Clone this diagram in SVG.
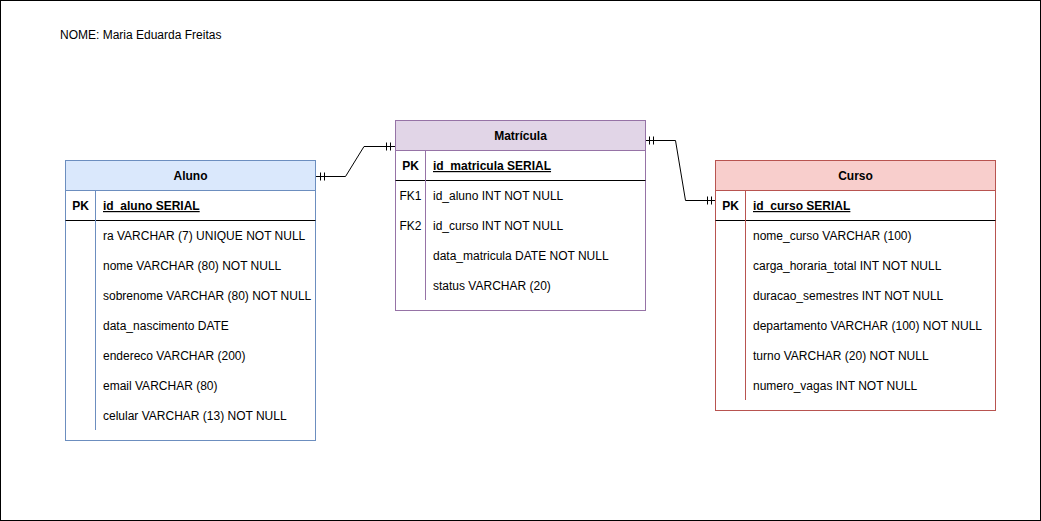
<svg xmlns="http://www.w3.org/2000/svg" width="1041" height="521" viewBox="0 0 1041 521">
<style>
text{font-family:"Liberation Sans",Arial,Helvetica,sans-serif;font-size:12px;fill:#000}
.h{font-weight:bold;text-anchor:middle}
.k{text-anchor:middle}
.pk{font-weight:bold}
.u{font-weight:bold;text-decoration:underline}
.sep{stroke:#000;stroke-width:1;fill:none}
.conn{stroke:#000;stroke-width:1;fill:none}
</style>
<rect x="0.5" y="0.5" width="1040" height="520" fill="#fff" stroke="#000"/>
<text x="60" y="39">NOME: Maria Eduarda Freitas</text>

<g id="connectors">
<path class="conn" d="M315.5 176.5 L345.5 176.5 L364 146.5 L395.5 146.5"/>
<path class="conn" d="M320.5 172.5 V180.5 M324.5 172.5 V180.5 M386.5 142.5 V150.5 M390.5 142.5 V150.5"/>
<path class="conn" d="M645.5 140.5 L675.5 140.5 L685.5 200.5 L715.5 200.5"/>
<path class="conn" d="M649.5 136.5 V144.5 M653.5 136.5 V144.5 M707.5 196.5 V204.5 M711.5 196.5 V204.5"/>
</g>

<g id="aluno">
<rect x="65.5" y="160.5" width="250" height="280" fill="#fff" stroke="#6c8ebf"/>
<rect x="65.5" y="160.5" width="250" height="30" fill="#dae8fc" stroke="#6c8ebf"/>
<line class="sep" x1="65.5" y1="220.5" x2="315.5" y2="220.5"/>
<line x1="95.5" y1="190.5" x2="95.5" y2="430" stroke="#6c8ebf"/>
<text class="h" x="190.5" y="180">Aluno</text>
<text class="pk k" x="80.5" y="210">PK</text>
<text class="u" x="103" y="210">id_aluno SERIAL</text>
<text x="103" y="240">ra VARCHAR (7) UNIQUE NOT NULL</text>
<text x="103" y="270">nome VARCHAR (80) NOT NULL</text>
<text x="103" y="300">sobrenome VARCHAR (80) NOT NULL</text>
<text x="103" y="330">data_nascimento DATE</text>
<text x="103" y="360">endereco VARCHAR (200)</text>
<text x="103" y="390">email VARCHAR (80)</text>
<text x="103" y="420">celular VARCHAR (13) NOT NULL</text>
</g>

<g id="matricula">
<rect x="395.5" y="120.5" width="250" height="190" fill="#fff" stroke="#9673a6"/>
<rect x="395.5" y="120.5" width="250" height="30" fill="#e1d5e7" stroke="#9673a6"/>
<line class="sep" x1="395.5" y1="180.5" x2="645.5" y2="180.5"/>
<line x1="425.5" y1="150.5" x2="425.5" y2="300" stroke="#9673a6"/>
<text class="h" x="520.5" y="140">Matrícula</text>
<text class="pk k" x="410.5" y="170">PK</text>
<text class="u" x="433" y="170">id_matricula SERIAL</text>
<text class="k" x="410.5" y="200">FK1</text>
<text x="433" y="200">id_aluno INT NOT NULL</text>
<text class="k" x="410.5" y="230">FK2</text>
<text x="433" y="230">id_curso INT NOT NULL</text>
<text x="433" y="260">data_matricula DATE NOT NULL</text>
<text x="433" y="290">status VARCHAR (20)</text>
</g>

<g id="curso">
<rect x="715.5" y="160.5" width="280" height="250" fill="#fff" stroke="#b85450"/>
<rect x="715.5" y="160.5" width="280" height="30" fill="#f8cecc" stroke="#b85450"/>
<line class="sep" x1="715.5" y1="220.5" x2="995.5" y2="220.5"/>
<line x1="745.5" y1="190.5" x2="745.5" y2="400" stroke="#b85450"/>
<text class="h" x="855.5" y="180">Curso</text>
<text class="pk k" x="730.5" y="210">PK</text>
<text class="u" x="753" y="210">id_curso SERIAL</text>
<text x="753" y="240">nome_curso VARCHAR (100)</text>
<text x="753" y="270">carga_horaria_total INT NOT NULL</text>
<text x="753" y="300">duracao_semestres INT NOT NULL</text>
<text x="753" y="330">departamento VARCHAR (100) NOT NULL</text>
<text x="753" y="360">turno VARCHAR (20) NOT NULL</text>
<text x="753" y="390">numero_vagas INT NOT NULL</text>
</g>
</svg>
